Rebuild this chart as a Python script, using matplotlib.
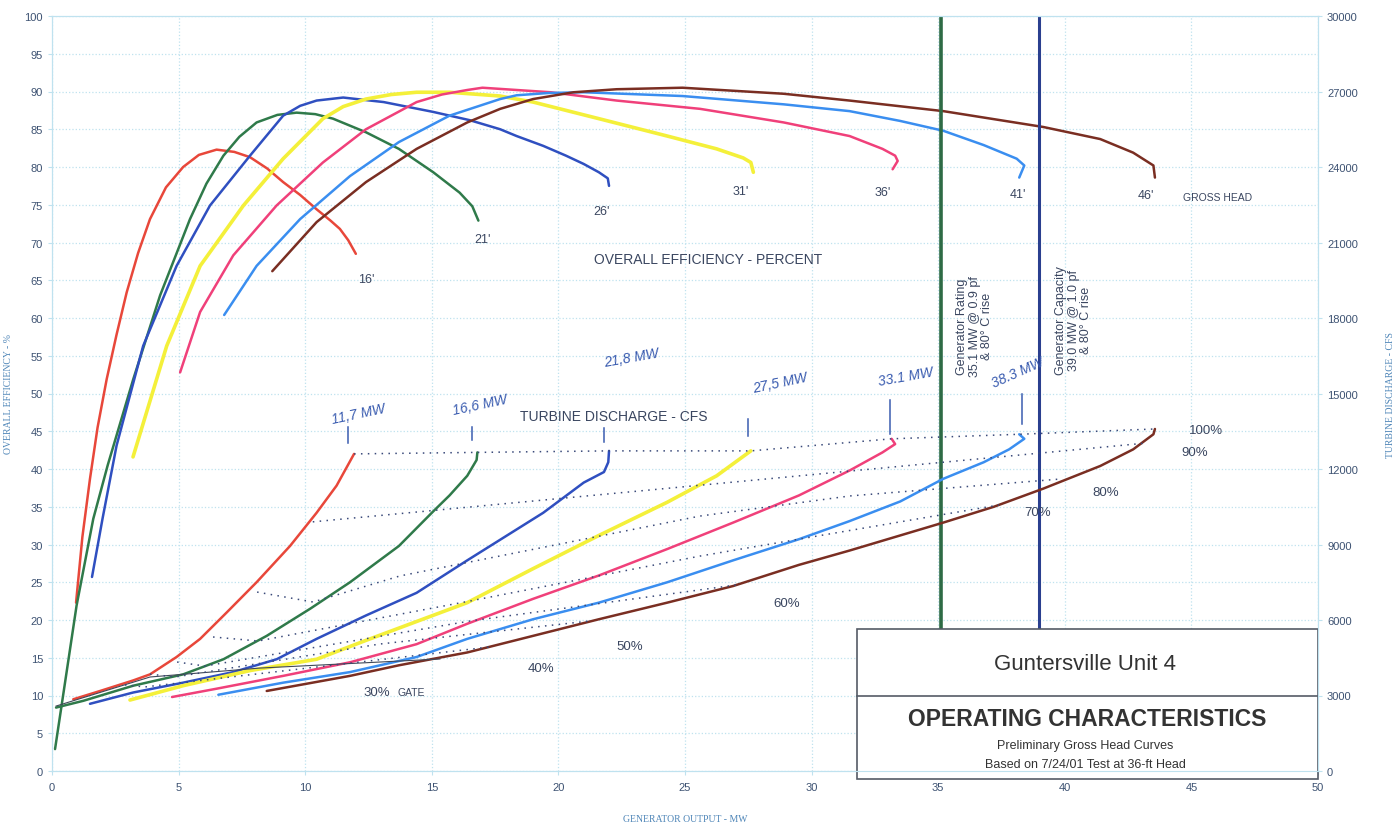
import matplotlib
matplotlib.use('Agg')
import matplotlib.pyplot as plt
from matplotlib.patches import Rectangle

plt.rcParams['font.family'] = ['Liberation Sans', 'DejaVu Sans']

# gross heads and their colours
heads = ["16'", "21'", "26'", "31'", "36'", "41'", "46'"]
colors = ['#e8473a', '#2f7a4a', '#2f4fc0', '#f4f03a', '#f0407a', '#3a8ef0', '#7a2e22']

# overall efficiency (%) vs generator output (MW)
eff_16_x = [0.95, 1.2, 1.5, 1.8, 2.16, 2.55, 2.95, 3.4, 3.87, 4.5, 5.18, 5.8, 6.5, 7.2, 7.82, 8.5, 9.13, 9.8, 10.45, 11.0, 11.37, 11.7, 12.0]
eff_16_y = [22.3, 31.0, 38.7, 45.5, 51.9, 57.8, 63.4, 68.6, 73.1, 77.3, 80.0, 81.6, 82.3, 82.0, 81.3, 79.8, 78.0, 76.3, 74.4, 72.9, 71.8, 70.3, 68.5]
eff_21_x = [0.12, 0.38, 0.97, 1.63, 2.2, 3.21, 4.27, 5.45, 6.1, 6.77, 7.4, 8.08, 8.9, 9.66, 10.4, 11.1, 12.4, 13.7, 15.06, 16.1, 16.6, 16.84]
eff_21_y = [2.9, 8.7, 21.9, 33.4, 40.5, 51.9, 63.0, 73.1, 77.8, 81.5, 84.0, 85.9, 86.9, 87.2, 87.0, 86.4, 84.6, 82.4, 79.3, 76.6, 74.8, 72.9]
eff_26_x = [1.58, 2.0, 2.55, 3.6, 4.92, 6.24, 7.82, 9.13, 9.8, 10.45, 11.5, 13.1, 15.05, 16.5, 17.7, 18.35, 19.4, 20.3, 21.0, 21.6, 21.95, 22.0]
eff_26_y = [25.7, 33.5, 43.1, 56.3, 66.9, 74.9, 81.5, 86.8, 88.1, 88.8, 89.2, 88.6, 87.3, 86.2, 85.0, 84.1, 82.8, 81.5, 80.4, 79.3, 78.5, 77.5]
eff_31_x = [3.2, 4.53, 5.85, 7.56, 9.13, 10.7, 11.5, 12.4, 13.4, 14.4, 15.7, 17.7, 19.0, 21.6, 24.3, 26.25, 27.3, 27.6, 27.7]
eff_31_y = [41.6, 56.3, 66.9, 74.9, 81.1, 86.4, 88.0, 89.0, 89.6, 89.9, 89.9, 89.4, 88.6, 86.4, 84.1, 82.4, 81.2, 80.6, 79.3]
eff_36_x = [5.06, 5.85, 7.16, 8.87, 10.7, 12.4, 14.4, 15.4, 16.4, 17.0, 19.7, 22.3, 25.6, 28.9, 31.5, 32.8, 33.3, 33.4, 33.2]
eff_36_y = [52.8, 60.8, 68.3, 74.9, 80.6, 85.0, 88.6, 89.6, 90.2, 90.5, 89.9, 88.8, 87.7, 85.9, 84.1, 82.4, 81.5, 80.8, 79.7]
eff_41_x = [6.8, 8.08, 9.8, 11.77, 13.7, 15.7, 17.7, 18.35, 19.6, 21.0, 24.9, 28.9, 31.5, 33.5, 35.2, 36.8, 38.1, 38.4, 38.2]
eff_41_y = [60.4, 66.9, 73.1, 78.8, 83.3, 86.8, 89.0, 89.5, 89.8, 89.9, 89.4, 88.3, 87.4, 86.1, 84.8, 82.9, 81.1, 80.2, 78.6]
eff_46_x = [8.7, 10.45, 12.4, 14.4, 16.4, 17.7, 19.0, 20.6, 22.3, 24.9, 28.9, 31.5, 35.2, 39.15, 41.4, 42.7, 43.5, 43.56]
eff_46_y = [66.2, 72.7, 78.0, 82.4, 85.9, 87.7, 89.0, 89.9, 90.3, 90.5, 89.7, 88.8, 87.4, 85.3, 83.7, 81.9, 80.2, 78.6]

# turbine discharge (cfs) vs generator output (MW)
q_16_x = [0.84, 1.9, 3.21, 3.87, 4.92, 5.85, 6.9, 8.08, 9.4, 10.45, 11.24, 11.93]
q_16_y = [2850, 3180, 3600, 3840, 4530, 5250, 6300, 7500, 8940, 10260, 11340, 12600]
q_21_x = [0.16, 1.24, 3.21, 5.18, 6.77, 8.48, 10.2, 11.77, 13.7, 15.06, 15.7, 16.4, 16.77, 16.8]
q_21_y = [2520, 2790, 3390, 3840, 4440, 5370, 6450, 7500, 8940, 10320, 10950, 11730, 12360, 12660]
q_26_x = [1.5, 3.21, 5.18, 7.16, 8.87, 10.45, 12.4, 14.4, 16.4, 19.4, 21.0, 21.8, 21.97, 22.0]
q_26_y = [2670, 3120, 3510, 3930, 4440, 5250, 6180, 7080, 8370, 10260, 11460, 11880, 12270, 12720]
q_31_x = [3.08, 5.18, 7.82, 10.45, 12.4, 14.4, 16.4, 19.0, 21.6, 24.3, 26.25, 27.6]
q_31_y = [2820, 3390, 3990, 4440, 5190, 5940, 6690, 8040, 9360, 10680, 11730, 12720]
q_36_x = [4.74, 6.5, 9.13, 11.77, 14.4, 16.4, 19.0, 21.6, 24.3, 26.9, 29.5, 31.5, 32.8, 33.3, 33.16]
q_36_y = [2940, 3270, 3780, 4320, 5040, 5850, 6840, 7770, 8820, 9870, 10950, 11940, 12660, 12990, 13200]
q_41_x = [6.57, 9.13, 11.77, 14.4, 16.4, 19.0, 21.6, 24.3, 26.9, 29.5, 31.5, 33.5, 35.2, 36.8, 37.8, 38.4, 38.2]
q_41_y = [3030, 3510, 3930, 4530, 5250, 6030, 6690, 7500, 8370, 9210, 9930, 10710, 11610, 12270, 12780, 13200, 13380]
q_46_x = [8.48, 11.77, 13.7, 16.4, 19.0, 21.6, 24.3, 26.9, 29.5, 31.5, 35.2, 37.2, 39.15, 41.4, 42.7, 43.5, 43.56]
q_46_y = [3180, 3780, 4200, 4710, 5370, 6030, 6690, 7350, 8190, 8760, 9870, 10500, 11220, 12120, 12780, 13380, 13590]

# constant gate-opening lines (MW, cfs)
gate_labels = ['30% GATE', '40%', '50%', '60%', '70%', '80%', '90%', '100%']
g30_x = [0.16, 3.87, 8.21, 15.32]
g30_y = [2580, 3735, 4090, 4450]
g40_x = [2.88, 3.67, 17.3]
g40_y = [3420, 3340, 4930]
g50_x = [3.87, 4.86, 12.95, 21.25]
g50_y = [3850, 3735, 5046, 5960]
g60_x = [4.94, 6.04, 16.51, 27.01]
g60_y = [4330, 4170, 5960, 7390]
g70_x = [6.36, 8.14, 16.51, 25.59, 37.4]
g70_y = [5325, 5165, 6755, 8540, 10570]
g80_x = [8.1, 10.31, 13.74, 25.59, 31.52, 39.81]
g80_y = [7110, 6715, 7750, 10130, 10930, 11600]
g90_x = [10.3, 43.1]
g90_y = [9900, 13020]
g100_x = [11.93, 16.8, 22.0, 27.6, 33.16, 38.2, 43.56]
g100_y = [12600, 12660, 12720, 12720, 13200, 13380, 13590]

# hand-written maximum outputs
max_mw = [11.7, 16.6, 21.8, 27.5, 33.1, 38.3]
max_text = ['11,7 MW', '16,6 MW', '21,8 MW', '27,5 MW', '33.1 MW', '38.3 MW']

gen_rating = 35.1
gen_capacity = 39.0

eff_x = [eff_16_x, eff_21_x, eff_26_x, eff_31_x, eff_36_x, eff_41_x, eff_46_x]
eff_y = [eff_16_y, eff_21_y, eff_26_y, eff_31_y, eff_36_y, eff_41_y, eff_46_y]
q_x = [q_16_x, q_21_x, q_26_x, q_31_x, q_36_x, q_41_x, q_46_x]
q_y = [q_16_y, q_21_y, q_26_y, q_31_y, q_36_y, q_41_y, q_46_y]
gates_x = [g30_x, g40_x, g50_x, g60_x, g70_x, g80_x, g90_x, g100_x]
gates_y = [g30_y, g40_y, g50_y, g60_y, g70_y, g80_y, g90_y, g100_y]

# label placement
head_lab_x = [12.4, 17.0, 21.7, 27.2, 32.8, 38.15, 43.2]
head_lab_y = [65.2, 70.5, 74.2, 76.8, 76.7, 76.4, 76.3]
gate_pos = [(12.3, 10.4), (18.8, 13.6), (22.3, 16.6), (28.5, 22.2), (38.4, 34.3), (41.1, 37.0), (44.6, 42.2), (44.9, 45.2)]
hand_pos = [(12.1, 47.3), (16.9, 48.6), (22.9, 54.8), (28.75, 51.5), (33.7, 52.3), (38.15, 52.8)]
hand_rot = [12, 12, 10, 12, 10, 24]
tick_lo = [43.5, 43.8, 43.6, 44.4, 44.6, 46.0]
tick_hi = [45.5, 45.6, 45.4, 46.6, 49.2, 49.9]

tick_col = '#3d5272'
grid_col = '#bfe2ef'
text_col = '#3a4660'
hand_col = '#3a5cb0'

fig = plt.figure(figsize=(13.97, 8.28), dpi=100)
ax = fig.add_axes([52/1397, 1-772/828, 1266/1397, 755/828])
ax2 = ax.twinx()

ax.set_xlim(0, 50)
ax.set_ylim(0, 100)
ax2.set_ylim(0, 30000)
ax.set_xticks(range(0, 51, 5))
ax.set_yticks(range(0, 101, 5))
ax2.set_yticks(range(0, 30001, 3000))
ax.grid(True, color=grid_col, lw=0.9, ls=':')
ax.set_axisbelow(True)
for a in (ax, ax2):
    for s in a.spines.values():
        s.set_color(grid_col)
    a.tick_params(colors=grid_col, labelcolor=tick_col, labelsize=8, length=3)
ax.tick_params(axis='x', pad=5)

ax.set_xlabel('GENERATOR OUTPUT - MW', family='Liberation Serif', fontsize=7, color='#4f86b8', labelpad=16)
ax.set_ylabel('OVERALL EFFICIENCY - %', family='Liberation Serif', fontsize=7, color='#4f86b8', labelpad=8)
ax2.set_ylabel('TURBINE DISCHARGE - CFS', family='Liberation Serif', fontsize=7, color='#4f86b8', labelpad=20)

# efficiency curves
for xs, ys, c in zip(eff_x, eff_y, colors):
    lw = 2.6 if c == '#f4f03a' else 1.8
    ax.plot(xs, ys, color=c, lw=lw, solid_capstyle='round', solid_joinstyle='round')
for h, hx, hy in zip(heads, head_lab_x, head_lab_y):
    ax.text(hx, hy, h, fontsize=9, color=text_col, ha='center', va='center')
ax.text(44.67, 76.0, 'GROSS HEAD', fontsize=7.5, color=text_col, va='center')
ax.text(25.9, 67.8, 'OVERALL EFFICIENCY - PERCENT', fontsize=10, color=text_col, ha='center', va='center')

# discharge curves
for xs, ys, c in zip(q_x, q_y, colors):
    lw = 2.6 if c == '#f4f03a' else 1.8
    ax2.plot(xs, ys, color=c, lw=lw, solid_capstyle='round', solid_joinstyle='round')
ax.text(22.2, 47.0, 'TURBINE DISCHARGE - CFS', fontsize=10, color=text_col, ha='center', va='center')

# gate lines (30% drawn thin and solid, the rest dotted)
for i, (xs, ys) in enumerate(zip(gates_x, gates_y)):
    if i == 0:
        ax2.plot(xs, ys, color='#404858', lw=0.8)
    else:
        ax2.plot(xs, ys, color='#3a4a7a', lw=1.1, ls=(0, (1, 3.5)))
for lab, (gx, gy) in zip(gate_labels, gate_pos):
    if lab.startswith('30%'):
        ax.text(gx, gy, '30%', fontsize=9.5, color=text_col, va='center')
        ax.text(gx + 1.35, gy, 'GATE', fontsize=7.5, color=text_col, va='center')
    else:
        ax.text(gx, gy, lab, fontsize=9.5, color=text_col, va='center')

# hand-written maximum output marks
for mw, lo, hi in zip(max_mw, tick_lo, tick_hi):
    ax.plot([mw, mw], [lo, hi], color=hand_col, lw=1.1)
for t, (tx, ty), r in zip(max_text, hand_pos, hand_rot):
    ax.text(tx, ty, t, fontsize=10, color=hand_col, ha='center', va='center',
            rotation=r, style='italic')

# generator limits
ax.plot([gen_rating, gen_rating], [18.8, 100], color='#2e6b45', lw=2.6)
ax.plot([gen_capacity, gen_capacity], [18.8, 100], color='#2a3f8f', lw=2.2)
ax.text(gen_rating + 1.35, 59.0, 'Generator Rating\n35.1 MW @ 0.9 pf\n& 80° C rise', rotation=90,
        fontsize=9, color=text_col, ha='center', va='center', multialignment='center', linespacing=1.05)
ax.text(gen_capacity + 1.35, 59.8, 'Generator Capacity\n39.0 MW @ 1.0 pf\n& 80° C rise', rotation=90,
        fontsize=9, color=text_col, ha='center', va='center', multialignment='center', linespacing=1.05)

# title block
ax.add_patch(Rectangle((31.8, -1.0), 18.2, 19.8, facecolor='white', edgecolor='#555b66',
                       lw=1.2, zorder=5, clip_on=False))
ax.plot([31.8, 50], [9.9, 9.9], color='#555b66', lw=1.2, zorder=6)
ax.text(40.8, 14.2, 'Guntersville Unit 4', fontsize=16, color='#333', ha='center', va='center', zorder=7)
ax.text(40.9, 7.0, 'OPERATING CHARACTERISTICS', fontsize=16.5, fontweight='bold', color='#333',
        ha='center', va='center', zorder=7)
ax.text(40.8, 3.5, 'Preliminary Gross Head Curves', fontsize=9, color='#333', ha='center', va='center', zorder=7)
ax.text(40.8, 0.9, 'Based on 7/24/01 Test at 36-ft Head', fontsize=9, color='#333', ha='center', va='center', zorder=7)

fig.savefig('out.png', dpi=100)
